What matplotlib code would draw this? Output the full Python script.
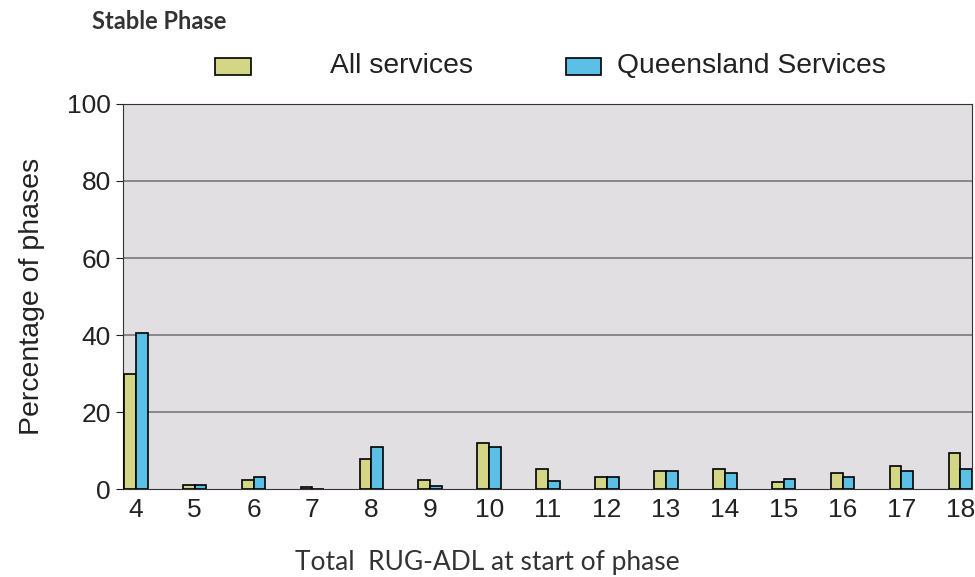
import numpy as np
import matplotlib.pyplot as plt
from matplotlib.patches import Rectangle

# RUG-ADL score categories
categories = [4, 5, 6, 7, 8, 9, 10, 11, 12, 13, 14, 15, 16, 17, 18]
all_services = [30.0, 1.0, 2.5, 0.5, 7.8, 2.5, 12.1, 5.2, 3.1, 4.7, 5.2, 2.0, 4.1, 6.1, 9.4]
qld_services = [40.5, 1.0, 3.2, 0.0, 11.0, 0.9, 11.0, 2.1, 3.1, 4.7, 4.1, 2.6, 3.1, 4.7, 5.2]
yticks = [0, 20, 40, 60, 80, 100]

col_all = '#d3d785'
col_qld = '#5cc0e6'

plt.rcParams['font.family'] = 'Liberation Sans'

fig = plt.figure(figsize=(9.75, 5.77), dpi=100)
ax = fig.add_axes([0.126, 0.152, 0.871, 0.668])
ax.set_facecolor('#e1dfe1')

x = np.array(categories)
w = 0.2
ax.bar(x - w/2, all_services, w, color=col_all, edgecolor='black', linewidth=1.2, zorder=3)
ax.bar(x + w/2, qld_services, w, color=col_qld, edgecolor='black', linewidth=1.2, zorder=3)

ax.set_xlim(3.78, 18.2)
ax.set_ylim(0, 100)
ax.set_xticks(categories)
ax.set_yticks(yticks)
for yv in yticks[1:-1]:
    ax.axhline(yv, color='#808080', linewidth=1.3, zorder=1)

for s in ax.spines.values():
    s.set_color('#333333')
ax.tick_params(axis='both', labelsize=19, colors='#222222', length=5)
ax.tick_params(axis='x', length=0, pad=6)
ax.set_ylabel('Percentage of phases', fontsize=20.5, color='#222222', labelpad=16)

fig.text(0.094, 0.962, 'Stable Phase', fontsize=17, fontweight='bold',
         family='Lato', color='#333333', va='center')
fig.text(0.5, 0.025, 'Total  RUG-ADL at start of phase', fontsize=19,
         family='Lato', color='#333333', ha='center', va='center')

# legend drawn by hand to keep the original spacing
fig.patches.append(Rectangle((215/975, 1-75/577), 36/975, 17/577, transform=fig.transFigure,
                             facecolor=col_all, edgecolor='black', linewidth=1.2))
fig.text(330/975, 1-66/577, 'All services', fontsize=20.3, color='#222222', va='center')
fig.patches.append(Rectangle((566/975, 1-75/577), 35/975, 17/577, transform=fig.transFigure,
                             facecolor=col_qld, edgecolor='black', linewidth=1.2))
fig.text(617/975, 1-66/577, 'Queensland Services', fontsize=20.3, color='#222222', va='center')

fig.savefig('out.png', dpi=100)
